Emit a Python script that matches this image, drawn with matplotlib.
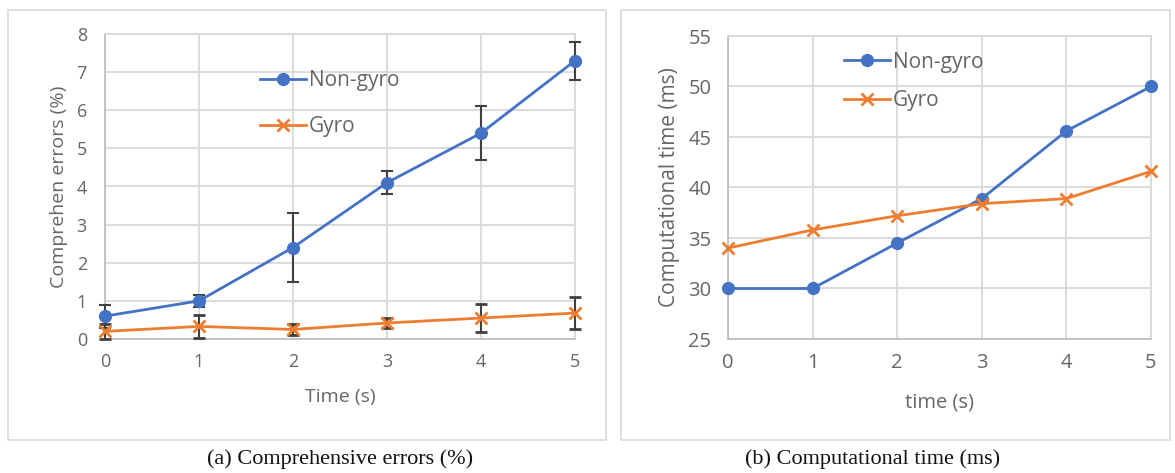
import matplotlib
matplotlib.use("Agg")
import matplotlib.pyplot as plt
from matplotlib.patches import Rectangle
from matplotlib.lines import Line2D

# ---- data ----
time_s = [0, 1, 2, 3, 4, 5]
err_nongyro = [0.6, 1.0, 2.4, 4.1, 5.4, 7.3]
err_nongyro_sd = [0.3, 0.15, 0.9, 0.3, 0.7, 0.5]
err_gyro = [0.2, 0.33, 0.25, 0.42, 0.55, 0.68]
err_gyro_sd = [0.2, 0.3, 0.15, 0.13, 0.36, 0.42]

ct_nongyro = [30.0, 30.0, 34.5, 38.9, 45.6, 50.0]
ct_gyro = [34.0, 35.8, 37.2, 38.4, 38.9, 41.6]

labels = ["Non-gyro", "Gyro"]
xlabels = ["Time (s)", "time (s)"]
ylabels = ["Comprehen errors (%)", "Computational time (ms)"]
captions = ["(a) Comprehensive errors (%)", "(b) Computational time (ms)"]

BLUE = "#4472C4"
ORANGE = "#ED7D31"
GRID = "#d9d9d9"
TXT = "#666666"
EB = "#404040"

plt.rcParams["font.family"] = ["Open Sans", "DejaVu Sans"]

W, H = 1175, 473
fig = plt.figure(figsize=(W / 100, H / 100), dpi=100)


def fx(px):
    return px / W


def fy(py):
    return 1 - py / H


# panel frames
for (x0, x1) in [(8, 606), (621, 1170)]:
    fig.patches.append(Rectangle((fx(x0), fy(440)), fx(x1 - x0), (440 - 10) / H,
                                 transform=fig.transFigure, fill=False,
                                 edgecolor=GRID, linewidth=1.2))

axL = fig.add_axes([fx(105), fy(339), fx(470), 305 / H])
axR = fig.add_axes([fx(728), fy(339), fx(423), 303 / H])


def style(ax, ylim, yticks, fs, ypad):
    ax.set_xlim(0, 5)
    ax.set_ylim(*ylim)
    ax.set_xticks(time_s)
    ax.set_yticks(yticks)
    ax.grid(True, color=GRID, linewidth=1.3)
    ax.set_axisbelow(True)
    for s in ax.spines.values():
        s.set_color(GRID)
        s.set_linewidth(1.3)
    ax.spines["bottom"].set_color("#bfbfbf")
    ax.spines["left"].set_color("#bfbfbf")
    ax.tick_params(axis="y", length=0, labelsize=fs, colors=TXT, pad=ypad)
    ax.tick_params(axis="x", length=0, labelsize=fs, colors=TXT, pad=10)


style(axL, (0, 8), range(0, 9), 13, 13)
style(axR, (25, 55), range(25, 56, 5), 14.5, 12)

# left chart
axL.errorbar(time_s, err_nongyro, yerr=err_nongyro_sd, color=BLUE, marker="o",
             markersize=8.5, linewidth=2, ecolor=EB, elinewidth=1.5, capsize=4,
             capthick=1.5, clip_on=False, zorder=3)
axL.errorbar(time_s, err_gyro, yerr=err_gyro_sd, color=ORANGE, marker="x",
             markersize=8, markeredgewidth=2, linewidth=2, ecolor=EB,
             elinewidth=1.5, capsize=4, capthick=1.5, clip_on=False, zorder=3)

# right chart
axR.plot(time_s, ct_nongyro, color=BLUE, marker="o", markersize=8.5,
         linewidth=2, clip_on=False, zorder=3)
axR.plot(time_s, ct_gyro, color=ORANGE, marker="x", markersize=8,
         markeredgewidth=2, linewidth=2, clip_on=False, zorder=3)

handles = [Line2D([], [], color=BLUE, marker="o", markersize=8.5, linewidth=2),
           Line2D([], [], color=ORANGE, marker="x", markersize=8,
                  markeredgewidth=2, linewidth=2)]

axL.legend(handles, labels, loc="upper left", bbox_to_anchor=(0.29, 0.942),
           frameon=False, fontsize=15, handlelength=2.2,
           handletextpad=0.15, labelspacing=1.2, labelcolor=TXT)
axR.legend(handles, labels, loc="upper left", bbox_to_anchor=(0.23, 1.01),
           frameon=False, fontsize=15, handlelength=2.2,
           handletextpad=0.15, labelspacing=0.85, labelcolor=TXT)

axL.set_xlabel(xlabels[0], fontsize=14, color=TXT, labelpad=12)
axR.set_xlabel(xlabels[1], fontsize=14.5, color=TXT, labelpad=14)
axL.set_ylabel(ylabels[0], fontsize=14, color=TXT, labelpad=6)
axR.set_ylabel(ylabels[1], fontsize=15, color=TXT, labelpad=6)

fig.text(fx(340), fy(459), captions[0], ha="center", va="center",
         fontsize=16, family=["Liberation Serif"], color="#111111")
fig.text(fx(873), fy(459), captions[1], ha="center", va="center",
         fontsize=16, family=["Liberation Serif"], color="#111111")

fig.savefig("out.png", dpi=100, facecolor="white")
